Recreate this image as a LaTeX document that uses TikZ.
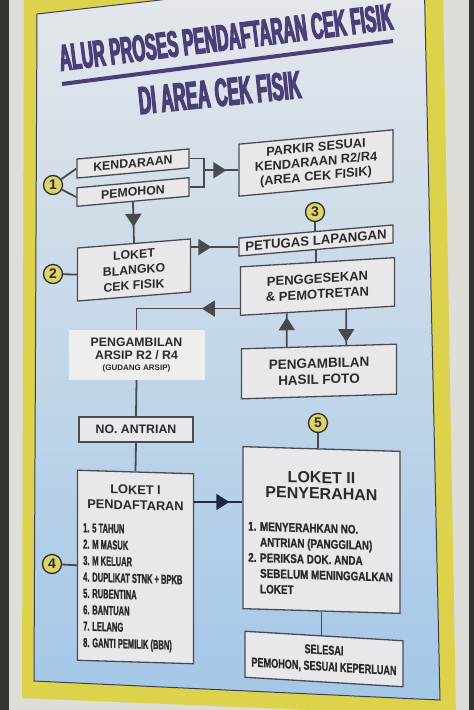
\documentclass[tikz,border=0pt]{standalone}
\usepackage{fontspec}
\usepackage{graphicx}
\setmainfont{Liberation Sans}
\newfontfamily\titlefont{Liberation Sans}[FakeStretch=0.448,FakeBold=3]
\newfontfamily\narrowA{Liberation Sans}[FakeStretch=0.58,FakeBold=1.2]
\newfontfamily\narrowB{Liberation Sans}[FakeStretch=0.79,FakeBold=1]
\newfontfamily\narrowC{Liberation Sans}[FakeStretch=0.70,FakeBold=1]
\usetikzlibrary{arrows.meta,decorations.markings,calc}
\definecolor{frameW}{HTML}{DEDDD7}
\definecolor{frameD}{HTML}{34332F}
\definecolor{bannerY}{HTML}{DCD24C}
\definecolor{panelTop}{HTML}{E6E8EA}
\definecolor{panelMid}{HTML}{BFD0E0}
\definecolor{panelBot}{HTML}{A4C7E7}
\definecolor{panelEdge}{HTML}{3C4050}
\definecolor{titlecol}{HTML}{4A3F78}
\definecolor{boxedge}{HTML}{4A4A52}
\definecolor{boxfill}{HTML}{E8E8EA}
\definecolor{stickfill}{HTML}{EEEEEC}
\definecolor{txt}{HTML}{2B2B2E}
\definecolor{connc}{HTML}{4A4A4E}
\definecolor{navyc}{HTML}{1F2A44}
\definecolor{circfill}{HTML}{DCD36A}
\definecolor{circedge}{HTML}{2E2E2A}
\newcommand\fntL{\fontsize{12.3}{15.5}\selectfont\bfseries}
\begin{document}
\begin{tikzpicture}[x=1pt,y=-1pt,
  box/.style={draw=boxedge, line width=1.3pt, fill=boxfill, text=txt, align=center, inner sep=0pt},
  sticker/.style={fill=stickfill, text=txt, align=center, inner sep=0pt},
  boxtext/.style={text=txt, inner sep=0pt},
  numc/.style={circle, draw=circedge, line width=1.3pt, fill=circfill, minimum size=19pt, inner sep=0pt, text=circedge, font=\fontsize{14}{14}\selectfont\bfseries},
  conn/.style={draw=connc, line width=1.8pt},
  midarr/.style={postaction={decorate, decoration={markings, mark=at position #1 with {\arrow{Triangle[length=13pt,width=16pt]}}}}},
  titletext/.style={text=titlecol, inner sep=0pt}
]
\useasboundingbox (0,0) rectangle (474,710);
% photo frame
\fill[frameW] (0,0) rectangle (474,710);
\fill[frameD] (0,0) rectangle (9,710);
\fill[frameD] (469,0) rectangle (474,710);
\fill[bannerY] (24,-5) -- (443,-5) -- (456,716) -- (22,698) -- cycle;
\shade[top color=panelTop, middle color=panelMid, bottom color=panelBot] (37,14) -- (424,-30) -- (440,700) -- (34,681) -- cycle;
\draw[panelEdge, line width=1pt] (37,14) -- (424,-30) -- (440,700) -- (34,681) -- cycle;

% title
\node[titletext, font={\titlefont\fontsize{37}{37}\selectfont\bfseries}, rotate=7.15, anchor=base] (t1) at (227.5,50) {ALUR PROSES PENDAFTARAN CEK FISIK};
\coordinate (u1) at (62,84);
\coordinate (u2) at (393,41);
\draw[titlecol, line width=4pt] (u1) -- (u2);
\node[titletext, font={\titlefont\fontsize{39}{39}\selectfont\bfseries}, rotate=5.8, anchor=base] (t2) at (221,106) {DI AREA CEK FISIK};

% boxes
\node[box, minimum width=112pt, minimum height=19pt, yslant=0.09, font=\fntL] (ken) at (133,163.5) {KENDARAAN};
\node[box, minimum width=112pt, minimum height=18.5pt, yslant=0.09, font=\fntL] (pem) at (133,192) {PEMOHON};
\node[box, minimum width=154pt, minimum height=52pt, yslant=0.093, font={\fontsize{12.8}{14.6}\selectfont\bfseries}] (parkir) at (316,163) {PARKIR SESUAI\\KENDARAAN R2/R4\\(AREA CEK FISIK)};
\node[box, minimum width=113pt, minimum height=53pt, yslant=0.08, font=\fntL] (loket) at (134,270) {LOKET\\BLANGKO\\CEK FISIK};
\node[box, minimum width=154pt, minimum height=18pt, yslant=0.085, font={\fontsize{13.2}{14}\selectfont\bfseries}] (petugas) at (316,240.5) {PETUGAS LAPANGAN};
\node[box, minimum width=154pt, minimum height=48.5pt, yslant=0.06, font={\fontsize{13}{15.6}\selectfont\bfseries}] (gesek) at (317.5,286.5) {PENGGESEKAN\\\& PEMOTRETAN};
\node[box, minimum width=155pt, minimum height=50pt, yslant=0.03, font={\fontsize{13.5}{16}\selectfont\bfseries}] (hasil) at (319,371.5) {PENGAMBILAN\\HASIL FOTO};
\node[sticker, minimum width=136pt, minimum height=50pt, font={\fontsize{12.3}{13.5}\selectfont\bfseries}] (arsip) at (136.5,355) {PENGAMBILAN\\ARSIP R2 / R4\\[-3pt]{\fontsize{8}{9}\selectfont\bfseries (GUDANG ARSIP)}};
\node[box, minimum width=114pt, minimum height=25pt, font=\fntL] (noant) at (136,429.5) {NO. ANTRIAN};
\node[box, minimum width=116pt, minimum height=190pt, yslant=-0.03] (loket1) at (135.5,567) {};
\node[boxtext, align=center, yslant=-0.03, font={\fontsize{12.8}{15.5}\selectfont\bfseries}] (l1t) at (135.5,497.5) {LOKET I\\PENDAFTARAN};
\node[boxtext, align=left, anchor=north west, yslant=-0.03, font={\narrowA\fontsize{13}{16.4}\selectfont\bfseries}] (l1l) at (83,523) {1. 5 TAHUN\\2. M MASUK\\3. M KELUAR\\4. DUPLIKAT STNK + BPKB\\5. RUBENTINA\\6. BANTUAN\\7. LELANG\\8. GANTI PEMILIK (BBN)};
\node[box, minimum width=157pt, minimum height=162pt, yslant=-0.03] (loket2) at (321.5,530) {};
\node[boxtext, align=center, yslant=-0.03, font={\fontsize{16}{16}\selectfont\bfseries}] (l2t) at (321.5,485.5) {LOKET II\\PENYERAHAN};
\node[boxtext, align=left, anchor=north west, yslant=-0.03, font={\narrowB\fontsize{12.5}{15.6}\selectfont\bfseries}] (l2l) at (248,521.5) {1. MENYERAHKAN NO.\\\phantom{1. }ANTRIAN (PANGGILAN)\\2. PERIKSA DOK. ANDA\\\phantom{2. }SEBELUM MENINGGALKAN\\\phantom{2. }LOKET};
\node[box, minimum width=158pt, minimum height=46pt, yslant=-0.06, font={\narrowC\fontsize{13}{16.5}\selectfont\bfseries}] (selesai) at (324,659) {SELESAI\\PEMOHON, SESUAI KEPERLUAN};

% numbered circles
\node[numc] (c1) at (53,185) {1};
\node[numc] (c2) at (53,274) {2};
\node[numc] (c3) at (315,212) {3};
\node[numc] (c4) at (52,564) {4};
\node[numc] (c5) at (318,423) {5};

% connectors
\draw[conn] (c1) -- (ken.west);
\draw[conn] (c1) -- (pem.west);
\coordinate (brk) at (204,172);
\draw[conn] (ken.east) -| (brk) |- (pem.east);
\draw[conn, midarr=-12pt] (brk |- parkir.west) -- (parkir.west);
\draw[conn, midarr=-16pt] (pem.south) -- (loket.north);
\draw[conn] (c2) -- (loket.west);
\draw[conn, midarr=-27pt] (loket.east |- petugas.west) -- (petugas.west);
\draw[conn] (c3) -- (c3 |- petugas.north);
\draw[conn] (petugas.south) -- (petugas.south |- gesek.north);
\coordinate (gl) at ($(gesek.south west)!0.15!(gesek.north west)$);
\draw[conn, midarr=38pt] (gl) -- (gl -| arsip.north) -- (arsip.north);
\coordinate (ua) at ($(hasil.north west)!0.294!(hasil.north east)$);
\coordinate (ub) at ($(gesek.south west)!0.302!(gesek.south east)$);
\draw[conn, midarr=-4pt] (ua) -- (ub);
\coordinate (da) at ($(gesek.south west)!0.685!(gesek.south east)$);
\coordinate (db) at ($(hasil.north west)!0.674!(hasil.north east)$);
\draw[conn, midarr=-3pt] (da) -- (db);
\draw[conn] (arsip.south) -- (noant.north);
\draw[conn] (noant.south) -- (loket1.north);
\draw[conn] (c4) -- (loket1.west);
\coordinate (lk) at (218,502);
\draw[conn, draw=navyc, midarr=-13pt] (lk -| loket1.east) -- (lk -| loket2.west);
\draw[conn] (c5) -- (c5 |- loket2.north);
\draw[conn] (loket2.south) -- (loket2.south |- selesai.north);
\end{tikzpicture}
\end{document}
